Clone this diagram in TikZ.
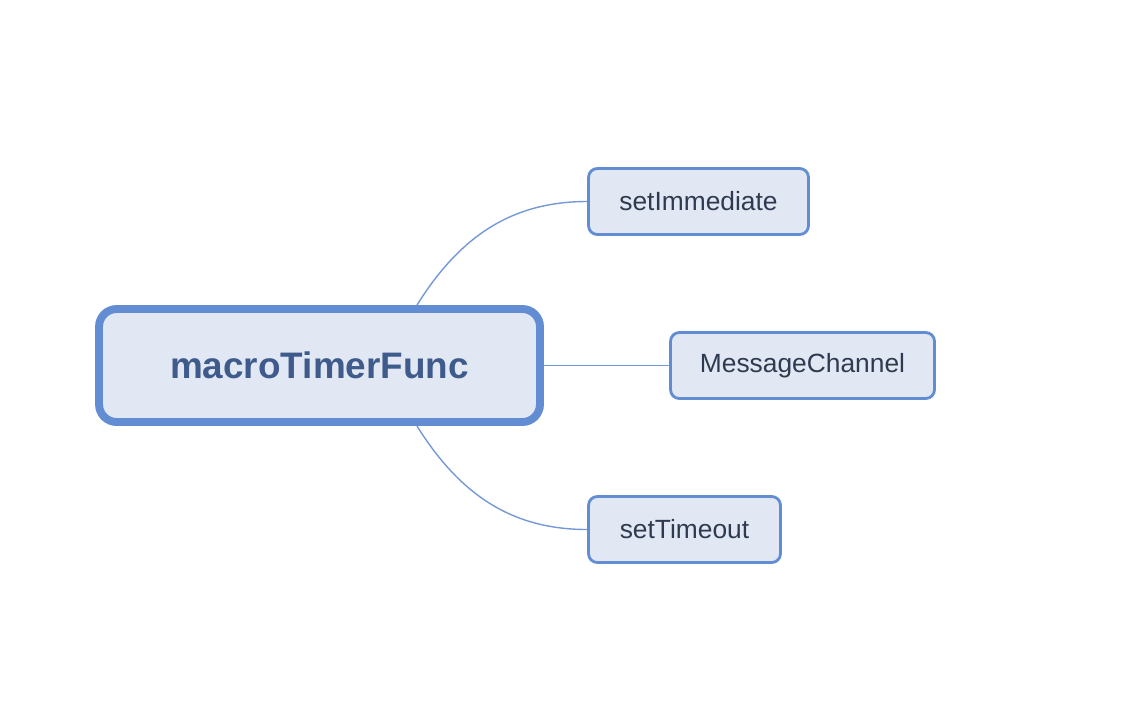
\documentclass[tikz,border=0pt]{standalone}
\usepackage{fontspec}
\setmainfont{Liberation Sans}
\usepackage{tikz}
\definecolor{boxfill}{HTML}{E1E8F3}
\definecolor{boxline}{HTML}{628DD2}
\definecolor{linkline}{HTML}{7599D6}
\definecolor{roottext}{HTML}{3F5B8C}
\definecolor{leaftext}{HTML}{2E3A4F}

\begin{document}
\begin{tikzpicture}[x=0.02cm,y=-0.02cm,
    rootbox/.style={draw=boxline,fill=boxfill,line width=4.5pt,
      rounded corners=10pt,minimum width=8.82cm,minimum height=2.26cm,
      text=roottext,font=\fontsize{21}{25}\selectfont\bfseries},
    leafbox/.style={draw=boxline,fill=boxfill,line width=1.6pt,
      rounded corners=5pt,minimum height=1.32cm,
      text=leaftext,font=\fontsize{15}{18}\selectfont},
    link/.style={draw=linkline,line width=0.8pt}]
\useasboundingbox (0,0) rectangle (1138,724);
\node[rootbox] (root) at (319.5,365.5) {macroTimerFunc};
\node[leafbox,minimum width=4.4cm] (immediate) at (698.5,201.5) {setImmediate};
\node[leafbox,minimum width=5.28cm] (channel) at (802.5,365.5) {MessageChannel};
\node[leafbox,minimum width=3.84cm] (timeout) at (684.5,529.5) {setTimeout};
% connectors
\coordinate (roottop) at (417,305);
\coordinate (rootbot) at (417,426);
\draw[link] (roottop) to[out=58,in=180] (immediate.west);
\draw[link] (root.east) -- (channel.west);
\draw[link] (rootbot) to[out=-58,in=180] (timeout.west);
\end{tikzpicture}
\end{document}
